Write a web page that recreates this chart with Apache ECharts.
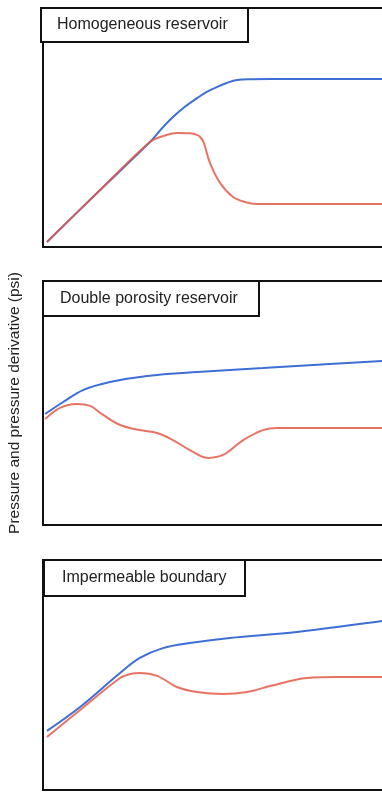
<!DOCTYPE html>
<html>
<head>
<meta charset="utf-8">
<script src="https://cdn.jsdelivr.net/npm/echarts@6/dist/echarts.min.js"></script>
<style>
  html, body { margin: 0; padding: 0; background: #fff; }
  #chart { width: 382px; height: 793px; }
</style>
</head>
<body>
<div id="chart"></div>
<script>
// Dimensionless time (x) and response (y) for three well-test diagnostic cases.
// Each pair is [time, value]; both on a 0–100 relative scale.

const panelTitles = ['Homogeneous reservoir', 'Double porosity reservoir', 'Impermeable boundary'];
const yAxisTitle = 'Pressure and pressure derivative (psi)';

// Homogeneous reservoir
const homoPressure = [
  [1.1, 2.1], [15, 22.6], [29.7, 43.9], [33, 49.6], [36.1, 54.4], [39.5, 58.8], [42.8, 62.3],
  [45.5, 64.9], [48.3, 66.9], [51, 68.6], [53.9, 69.9], [58, 70.2], [63.1, 70.3], [100, 70.3]
];
const homoDerivative = [
  [1.1, 2.1], [15, 22.6], [29.7, 43.9], [33.3, 46.4], [37.2, 47.7], [40.8, 47.6], [42.8, 46.9],
  [43.9, 45.6], [44.7, 43.5], [46.4, 35.1], [49.2, 26.8], [52.8, 20.9], [56.1, 18.8],
  [59.4, 18.0], [100, 18.0]
];

// Double porosity reservoir
const dualPressure = [
  [0.6, 45.5], [5.6, 50.4], [11.1, 55.3], [18.6, 58.6], [28.9, 61.1], [42.8, 62.7],
  [61.1, 64.3], [79.7, 66.0], [94.2, 67.2], [100, 67.6]
];
const dualDerivative = [
  [0.6, 43.4], [4.7, 48.0], [9.4, 49.6], [13.1, 48.8], [16.7, 45.1], [21.4, 41.0],
  [26.9, 38.9], [31.7, 37.7], [36.1, 34.8], [40.8, 30.7], [45.8, 27.5], [50.0, 28.7],
  [55.6, 34.8], [61.1, 38.9], [65.0, 39.8], [100, 39.8]
];

// Impermeable boundary
const boundPressure = [
  [1.1, 25.7], [10.3, 36.1], [21.4, 50.9], [26.9, 57.4], [33.3, 61.7], [40.8, 63.9],
  [51.9, 66.1], [70.6, 68.7], [94.2, 73.5], [100, 74.8]
];
const boundDerivative = [
  [1.1, 23.0], [10.3, 34.8], [21.4, 48.7], [24.2, 50.4], [26.9, 50.9], [31.7, 49.6],
  [37.2, 44.8], [42.8, 42.6], [50.0, 41.7], [56.7, 42.6], [63.1, 45.2], [73.3, 48.7],
  [82.5, 49.1], [100, 49.1]
];

const pressureSets = [homoPressure, dualPressure, boundPressure];
const derivativeSets = [homoDerivative, dualDerivative, boundDerivative];

const BLUE = '#3d6fd6';
const RED = '#e45a48';

// Panel frames in pixels: [top, height]; frames run past the right edge.
const frames = [[8, 239], [281, 244], [560, 230]];
// Title boxes: [left, top, padding]
const titleBoxes = [
  [41, 8, [9, 20, 9, 16]],
  [43, 281, [10, 21, 9, 17]],
  [44, 560, [10, 19, 10, 18]]
];

const chart = echarts.init(document.getElementById('chart'), null, { renderer: 'canvas' });

const grids = frames.map(([top, height]) => ({
  left: 43, top: top, height: height, right: -21,
  outerBoundsMode: 'none', containLabel: false,
  show: true, borderColor: '#111', borderWidth: 2, backgroundColor: 'transparent'
}));

const xAxes = frames.map((_, i) => ({
  type: 'value', gridIndex: i, min: 0, max: 100,
  axisLine: { show: false }, axisTick: { show: false }, axisLabel: { show: false },
  splitLine: { show: false }
}));

const yAxes = frames.map((_, i) => ({
  type: 'value', gridIndex: i, min: 0, max: 100,
  axisLine: { show: false }, axisTick: { show: false }, axisLabel: { show: false },
  splitLine: { show: false },
  name: i === 1 ? yAxisTitle : '',
  nameLocation: 'middle', nameRotate: 90, nameGap: 20,
  nameTextStyle: { fontFamily: 'Liberation Sans', fontSize: 15.5, color: '#222' }
}));

const series = [];
frames.forEach((_, i) => {
  series.push({
    type: 'line', xAxisIndex: i, yAxisIndex: i, data: pressureSets[i],
    smooth: 0.35, symbol: 'none', lineStyle: { color: BLUE, width: 2 }, z: 2
  });
  series.push({
    type: 'line', xAxisIndex: i, yAxisIndex: i, data: derivativeSets[i],
    smooth: 0.35, symbol: 'none', lineStyle: { color: RED, width: 2, opacity: 0.85 }, z: 3
  });
});

const titles = panelTitles.map((t, i) => ({
  text: t,
  left: titleBoxes[i][0], top: titleBoxes[i][1],
  padding: titleBoxes[i][2],
  borderColor: '#111', borderWidth: 2, backgroundColor: '#fff',
  textStyle: { fontFamily: 'Liberation Sans', fontSize: 16, fontWeight: 'normal', color: '#222' }
}));

chart.setOption({
  animation: false,
  backgroundColor: '#fff',
  title: titles,
  grid: grids,
  xAxis: xAxes,
  yAxis: yAxes,
  series: series
});
</script>
</body>
</html>
